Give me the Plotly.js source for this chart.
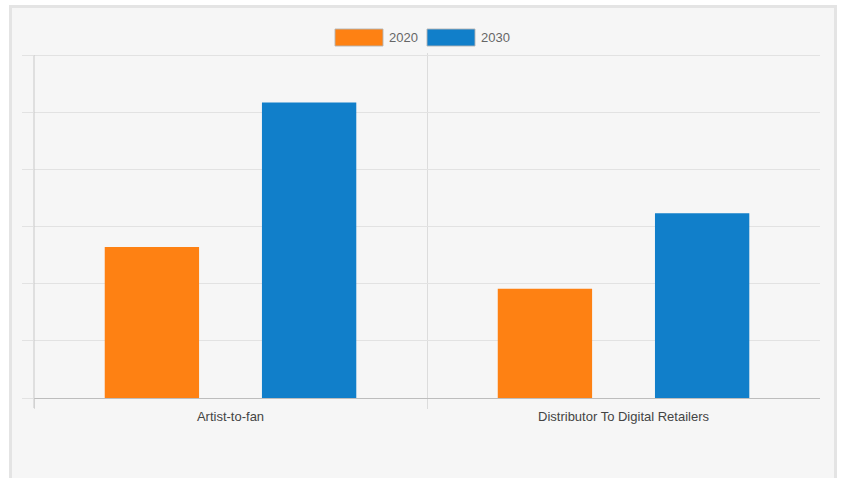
<!DOCTYPE html>
<html>
<head>
<meta charset="utf-8">
<script src="https://cdn.plot.ly/plotly-3.0.1.min.js"></script>
<style>
  html, body { margin: 0; padding: 0; background: #ffffff; }
  #frame { position: absolute; left: 9px; top: 5px; width: 822px; height: 480px;
           background: #f6f6f6; border: 3px solid #e4e4e4; box-sizing: content-box; }
  #chart { position: absolute; left: 0; top: 0; width: 842px; height: 478px; }
</style>
</head>
<body>
<div id="frame"></div>
<div id="chart"></div>
<script>
// Data
const categories = ["Artist-to-fan", "Distributor To Digital Retailers"];
const seriesNames = ["2020", "2030"];
const values2020 = [2.64, 1.91];
const values2030 = [5.17, 3.23];
const seriesColors = ["#fe8113", "#117fca"];
const yTicks = [0, 1, 2, 3, 4, 5, 6];

const traces = [
  { type: "bar", name: seriesNames[0], x: categories, y: values2020,
    marker: { color: seriesColors[0], line: { width: 0 } }, hoverinfo: "none" },
  { type: "bar", name: seriesNames[1], x: categories, y: values2030,
    marker: { color: seriesColors[1], line: { width: 0 } }, hoverinfo: "none" }
];

// plot area in px: x 34..820, y 53..398 (top grid line sits at 55)
const L = 34, R = 820, T = 53, B = 398;
const px = v => (v - L) / (R - L);
const py = v => (B - v) / (B - T);

function legendItem(x0, name, color) {
  return {
    shape: { type: "rect", xref: "paper", yref: "paper",
      x0: px(x0), x1: px(x0 + 48), y0: py(46), y1: py(29),
      fillcolor: color, line: { color: "rgba(180,180,180,0.9)", width: 1 } },
    ann: { xref: "paper", yref: "paper", x: px(x0 + 52), y: py(37.5),
      xanchor: "left", yanchor: "middle", showarrow: false, text: name,
      font: { family: "Liberation Sans, Arial, sans-serif", size: 13, color: "#666666" } }
  };
}
const li = [legendItem(335, seriesNames[0], seriesColors[0]), legendItem(427, seriesNames[1], seriesColors[1])];

const layout = {
  width: 842, height: 478,
  margin: { l: L, r: 842 - R, t: T, b: 478 - B },
  paper_bgcolor: "rgba(0,0,0,0)",
  plot_bgcolor: "rgba(0,0,0,0)",
  showlegend: false,
  barmode: "group",
  bargap: 0.2,
  bargroupgap: 0.4,
  font: { family: "Liberation Sans, Arial, sans-serif", size: 13, color: "#555555" },
  xaxis: {
    type: "category",
    range: [-0.5, 1.4999],
    tickson: "boundaries",
    showgrid: true, gridcolor: "#dcdcdc", gridwidth: 1,
    ticks: "outside", ticklen: 10, tickcolor: "#dcdcdc", tickwidth: 1,
    ticklabelstandoff: 6,
    showline: true, linecolor: "#bdbdbd", linewidth: 1,
    tickfont: { size: 13, color: "#444444" },
    fixedrange: true
  },
  yaxis: {
    range: [0, 6 * (B - T) / 343],
    tickvals: yTicks,
    showgrid: true, gridcolor: "#e2e2e2", gridwidth: 1,
    ticks: "outside", ticklen: 11, tickcolor: "#e2e2e2",
    showticklabels: false,
    showline: false,
    zeroline: false,
    fixedrange: true
  },
  shapes: li.map(o => o.shape).concat([
    // left axis line (y axis spine spanning grid area and tick below)
    { type: "line", xref: "paper", yref: "paper", x0: 0, x1: 0, y0: py(408), y1: py(55),
      line: { color: "#c8c8c8", width: 1 } }
  ]),
  annotations: li.map(o => o.ann)
};

Plotly.newPlot("chart", traces, layout, { displayModeBar: false, staticPlot: true });
</script>
</body>
</html>
